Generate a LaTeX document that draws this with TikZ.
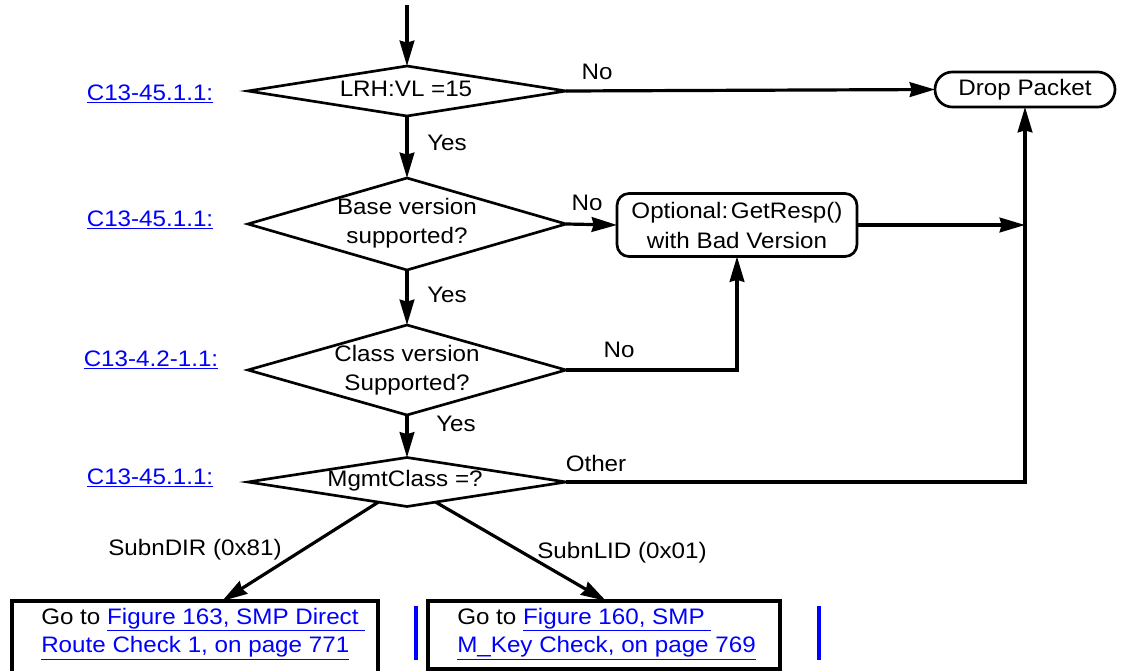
\documentclass[tikz,border=0pt]{standalone}
\usepackage{fontspec}
\setmainfont{Liberation Sans}[FakeStretch=1.08]
\usetikzlibrary{arrows.meta,shapes.geometric,calc}
\definecolor{lnkblue}{RGB}{0,0,255}
\newcommand{\lnk}[1]{\textcolor{lnkblue}{\underline{#1}}}
\begin{document}
\begin{tikzpicture}[x=0.75pt,y=-0.75pt,
  every node/.style={font=\fontsize{16.8}{21.75}\selectfont},
  dia/.style={draw, diamond, line width=2pt, inner sep=0pt, outer sep=0pt, minimum width=238.5pt},
  rbox/.style={draw, rectangle, line width=2pt, outer sep=0pt, inner sep=0pt},
  gbox/.style={draw, rectangle, line width=2.5pt, outer sep=0pt, inner sep=0pt},
  conn/.style={line width=2.4pt},
  arr/.style={conn, -{Stealth[length=19pt,width=11pt,inset=1.5pt]}},
  bar/.style={draw=lnkblue, line width=3pt},
  boxtext/.style={anchor=west, align=left, inner sep=0pt, font=\fontsize{16.8}{21.5}\selectfont}
]
\useasboundingbox (0,0) rectangle (1133,671);
\fill[white] (0,0) rectangle (1133,671);

\coordinate (start) at (407,5);
\node[dia, minimum height=37.5pt] (d1) at (407,91) {};
\node (t1) at (406,89) {LRH:VL =15};
\node[dia, minimum height=69pt] (d2) at (407,224) {};
\node[align=center] (t2) at (407,223) {Base version\\supported?};
\node[dia, minimum height=67.5pt] (d3) at (407,370) {};
\node[align=center] (t3) at (407,370) {Class version\\Supported?};
\node[dia, minimum height=36.75pt] (d4) at (407,482) {};
\node (t4) at (405,481) {MgmtClass =?};

\node[rbox, rounded corners=13pt, minimum width=135pt, minimum height=26.25pt] (dp) at (1025,89.5) {Drop Packet};
\node[rbox, rounded corners=9pt, minimum width=180pt, minimum height=47.25pt, align=center, font=\fontsize{16.8}{22.5}\selectfont] (opt) at (737,225) {Optional:\hspace{0.12em}GetResp()\\with Bad Version};

\node[gbox, minimum width=274.5pt, minimum height=56.25pt, anchor=north west] (b1) at (12,601) {};
\node[gbox, minimum width=264pt, minimum height=51pt, anchor=north west] (b2) at (428,601) {};
\node[boxtext] (bt1) at ($(b1.north west)+(29,33)$) {Go to \lnk{Figure 163, SMP Direct }\\\lnk{Route Check 1, on page 771}};
\node[boxtext] (bt2) at ($(b2.north west)+(29,33)$) {Go to \lnk{Figure 160, SMP }\\\lnk{M\_Key Check, on page 769}};

\draw[bar] (416,606) -- (416,660);
\draw[bar] (819,606) -- (819,660);

\draw[arr] (start) -- (d1.north);
\draw[arr] (d1.east) -- (dp.west);
\draw[arr] (d1.south) -- (d2.north);
\draw[arr] (d2.east) -- (opt.west);
\draw[arr] (opt.east) -- (opt.east -| dp.south);
\draw[arr] (d2.south) -- (d3.north);
\draw[arr] (d3.east) -| (opt.south);
\draw[arr] (d3.south) -- (d4.north);
\draw[arr] (d4.east) -| (dp.south);
\coordinate (d4l) at ($(d4.south)!0.18!(d4.west)$);
\coordinate (d4r) at ($(d4.south)!0.18!(d4.east)$);
\draw[arr] (d4l) -- ($(b1.north west)!0.574!(b1.north east)$);
\draw[arr] (d4r) -- ($(b2.north west)!0.506!(b2.north east)$);

\node (lno1) at (597,72) {No};
\node (lyes1) at (447,143) {Yes};
\node (lno2) at (587,203) {No};
\node (lyes2) at (447,295) {Yes};
\node (lno3) at (619,350) {No};
\node (lyes3) at (456,424) {Yes};
\node (lother) at (596,463) {Other};
\node (lsdir) at (195,550) {SubnDIR (0x81)};
\node (lslid) at (622,553) {SubnLID (0x01)};

\node (r1) at (150,94) {\lnk{C13-45.1.1:}};
\node (r2) at (150,220) {\lnk{C13-45.1.1:}};
\node (r3) at (151,360) {\lnk{C13-4.2-1.1:}};
\node (r4) at (150,478) {\lnk{C13-45.1.1:}};
\end{tikzpicture}
\end{document}
